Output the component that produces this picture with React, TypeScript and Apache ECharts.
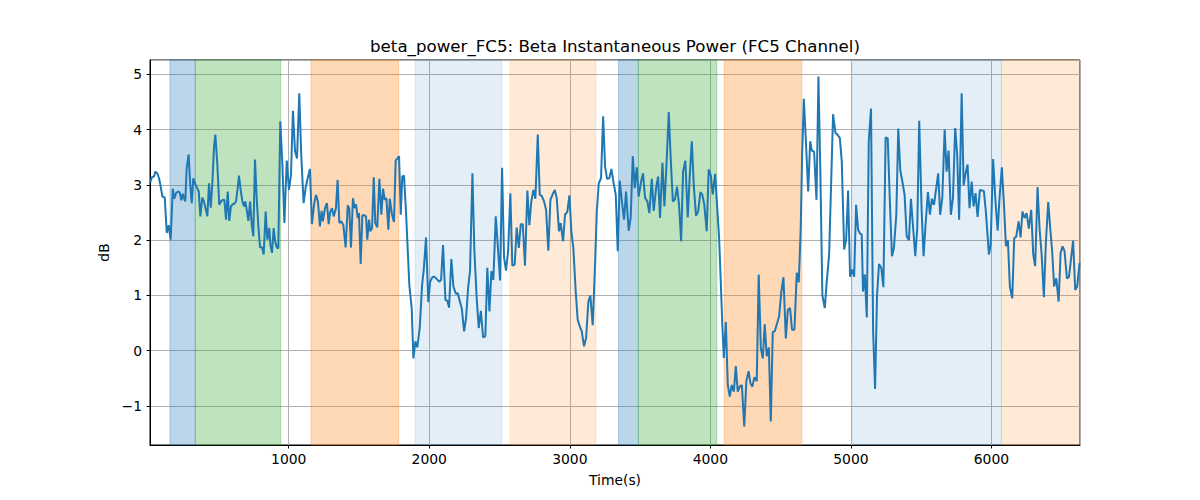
import React, { useEffect, useRef } from "react";
import * as echarts from "echarts";

// [time (s), dB]
const beta: [number, number][] = [
  [15,3.05],[27,3.14],[41,3.15],[51,3.24],[65,3.21],[77,3.12],[89,2.97],[101,2.79],[118,2.77],[132,2.13],
  [146,2.27],[160,2.01],[175,2.93],[186,2.75],[198,2.85],[212,2.88],[224,2.87],[236,2.72],[246,2.84],[255,2.76],
  [264,2.70],[274,3.31],[288,3.55],[298,3.06],[310,2.67],[321,3.12],[333,3.03],[345,2.96],[360,2.88],[371,2.43],
  [385,2.77],[397,2.70],[409,2.57],[421,2.43],[433,3.03],[445,2.59],[456,3.00],[468,3.67],[478,3.91],[492,3.37],
  [506,2.64],[518,2.70],[531,2.73],[542,2.73],[554,2.37],[566,2.88],[577,2.35],[589,2.61],[602,2.65],[613,2.66],
  [625,2.70],[637,2.94],[646,3.17],[658,2.91],[670,2.71],[682,2.61],[691,2.70],[703,2.52],[713,2.35],[725,2.70],
  [737,2.28],[748,2.07],[760,3.46],[772,2.76],[784,2.25],[796,1.87],[810,1.87],[822,1.74],[836,2.52],[848,2.01],
  [862,2.22],[869,1.92],[881,1.77],[893,2.22],[903,1.98],[915,1.87],[926,1.85],[940,4.15],[955,3.37],[969,2.31],
  [986,3.44],[1002,2.91],[1016,3.18],[1030,4.34],[1045,3.61],[1059,3.48],[1075,4.66],[1089,3.54],[1106,2.67],[1121,2.96],
  [1135,3.12],[1151,3.29],[1165,2.29],[1180,2.64],[1194,2.82],[1208,2.70],[1222,2.25],[1234,2.53],[1243,2.34],[1258,2.58],
  [1272,2.67],[1284,2.29],[1295,2.51],[1308,2.58],[1320,2.43],[1336,2.58],[1348,3.09],[1360,2.31],[1374,2.34],[1388,2.28],
  [1405,1.87],[1420,2.63],[1431,2.57],[1443,1.87],[1457,2.76],[1469,2.58],[1479,2.65],[1491,2.40],[1500,2.49],[1512,1.57],
  [1524,2.45],[1538,2.45],[1550,2.43],[1559,2.01],[1571,2.37],[1581,2.16],[1593,2.22],[1605,3.14],[1616,2.31],[1630,2.23],
  [1645,3.11],[1659,2.46],[1671,2.93],[1683,2.73],[1695,2.76],[1709,2.19],[1719,2.75],[1735,2.46],[1749,2.33],[1761,3.44],
  [1773,3.48],[1785,3.52],[1797,2.46],[1808,3.15],[1820,3.17],[1835,2.49],[1858,1.19],[1875,0.77],[1887,-0.14],[1901,0.17],
  [1915,0.06],[1932,0.41],[1949,1.19],[1961,1.47],[1977,2.05],[1993,0.88],[2006,1.25],[2022,1.33],[2036,1.34],[2053,1.30],
  [2070,1.25],[2084,1.28],[2098,1.91],[2115,0.92],[2129,0.90],[2141,0.78],[2157,1.66],[2172,1.16],[2189,1.03],[2203,1.04],
  [2217,0.90],[2231,0.77],[2248,0.35],[2262,0.59],[2276,1.13],[2290,1.44],[2307,3.21],[2321,1.80],[2338,0.92],[2352,0.41],
  [2367,0.72],[2383,0.24],[2399,0.26],[2413,1.50],[2428,0.71],[2442,1.44],[2456,1.28],[2473,2.43],[2487,1.92],[2504,1.27],
  [2518,3.31],[2532,1.69],[2546,1.45],[2561,1.80],[2577,2.85],[2591,1.54],[2608,1.56],[2622,2.23],[2637,1.86],[2651,2.29],
  [2665,2.29],[2681,1.54],[2698,2.90],[2712,2.27],[2726,2.70],[2741,2.91],[2755,2.75],[2772,3.91],[2786,2.82],[2800,2.80],
  [2817,2.70],[2831,2.55],[2847,1.81],[2862,2.73],[2878,2.83],[2893,2.91],[2907,2.76],[2923,2.16],[2935,2.31],[2952,1.98],
  [2966,2.46],[2982,2.51],[2997,2.81],[3011,2.16],[3025,1.86],[3042,1.07],[3056,0.56],[3071,0.44],[3085,0.35],[3101,0.08],
  [3116,0.23],[3132,0.89],[3146,1.00],[3163,0.46],[3178,1.44],[3192,2.52],[3206,3.03],[3222,3.12],[3237,4.24],[3251,3.33],
  [3265,3.11],[3281,3.12],[3296,3.29],[3310,3.06],[3327,2.82],[3341,1.80],[3355,3.08],[3372,2.67],[3386,2.37],[3400,2.88],
  [3419,2.17],[3433,2.40],[3448,3.52],[3462,2.94],[3476,3.32],[3490,2.79],[3507,3.06],[3521,3.21],[3535,2.77],[3552,2.70],
  [3566,2.49],[3583,3.11],[3597,2.53],[3614,2.94],[3628,3.15],[3642,2.40],[3659,3.40],[3673,2.61],[3690,3.48],[3704,4.32],
  [3718,3.47],[3733,2.70],[3747,2.73],[3763,2.97],[3777,2.64],[3792,1.98],[3806,3.24],[3822,3.44],[3839,2.41],[3854,3.20],
  [3868,3.79],[3882,2.99],[3898,2.44],[3913,2.52],[3929,2.87],[3943,2.82],[3957,2.64],[3974,2.16],[3988,3.28],[4003,3.17],
  [4017,2.83],[4034,3.20],[4046,2.70],[4062,2.05],[4074,1.25],[4086,0.41],[4096,-0.13],[4110,0.52],[4124,-0.62],[4138,-0.83],
  [4152,-0.62],[4167,-0.74],[4181,-0.28],[4195,-0.74],[4209,-0.65],[4224,-0.62],[4241,-1.37],[4256,-0.55],[4272,-0.37],[4285,-0.59],
  [4299,-0.65],[4313,-0.48],[4330,-0.55],[4344,1.38],[4359,0.05],[4373,-0.14],[4387,0.48],[4401,-0.10],[4416,0.06],[4430,-1.28],
  [4444,0.34],[4458,0.35],[4472,0.47],[4489,0.62],[4505,1.07],[4520,1.33],[4537,0.22],[4551,0.74],[4567,0.77],[4581,0.38],
  [4598,0.38],[4615,1.41],[4629,1.24],[4643,2.22],[4653,3.55],[4665,4.56],[4679,3.82],[4696,2.88],[4710,3.79],[4722,3.62],
  [4738,3.60],[4755,2.73],[4769,4.96],[4783,3.18],[4797,1.00],[4814,0.77],[4828,1.25],[4845,1.74],[4859,3.00],[4873,4.28],
  [4890,3.94],[4904,3.91],[4921,3.85],[4935,3.43],[4952,1.83],[4966,2.01],[4980,2.90],[4994,1.34],[5009,1.47],[5023,1.34],
  [5037,2.64],[5051,2.19],[5065,2.12],[5077,2.10],[5086,1.07],[5099,1.38],[5113,0.60],[5127,3.79],[5143,4.38],[5158,0.35],
  [5172,-0.69],[5186,1.01],[5200,1.57],[5216,1.50],[5231,1.15],[5247,3.86],[5262,3.84],[5278,2.65],[5292,1.71],[5306,1.86],
  [5323,2.46],[5337,4.02],[5351,3.27],[5368,3.03],[5382,2.82],[5397,2.07],[5413,2.00],[5427,2.75],[5442,2.25],[5458,1.71],
  [5472,2.22],[5486,4.16],[5503,2.55],[5517,1.71],[5531,2.28],[5548,2.87],[5562,2.46],[5576,2.75],[5591,2.64],[5607,2.94],
  [5621,3.21],[5635,2.46],[5650,2.76],[5667,4.00],[5681,3.24],[5695,3.62],[5711,2.46],[5726,2.76],[5742,4.03],[5756,3.55],
  [5770,2.37],[5788,4.66],[5802,2.99],[5816,3.21],[5830,3.37],[5844,2.58],[5859,3.06],[5873,2.61],[5887,2.85],[5901,2.42],
  [5918,2.91],[5946,2.89],[5960,2.52],[5982,1.74],[5994,1.92],[6012,3.47],[6027,2.76],[6044,2.17],[6058,2.79],[6074,3.32],
  [6089,2.64],[6103,1.89],[6117,2.00],[6131,1.16],[6148,0.95],[6162,2.04],[6176,2.06],[6193,2.34],[6207,2.05],[6221,2.52],
  [6236,2.40],[6250,2.49],[6266,2.21],[6283,2.55],[6297,1.75],[6311,1.53],[6328,2.96],[6342,2.22],[6357,1.74],[6373,0.97],
  [6387,1.95],[6404,2.69],[6418,2.22],[6432,1.80],[6446,1.16],[6461,1.31],[6478,0.89],[6492,1.77],[6506,1.89],[6520,1.80],
  [6537,1.31],[6551,1.33],[6567,1.68],[6581,1.99],[6596,1.10],[6610,1.16],[6627,1.59],
];

// shaded intervals (s)
const bandStart = [155, 335, 1159, 1899, 2575, 3346, 3488, 4098, 5011, 6071];
const bandEnd = [335, 943, 1783, 2516, 3185, 3488, 4046, 4651, 6071, 6630];
const bandKind = ["blue", "green", "orange", "lightblue", "lightorange", "blue", "green", "orange", "lightblue", "lightorange"];

const xMin = 13;
const xMax = 6630;
const yMin = -1.706;
const yMax = 5.26;

const bandColor: Record<string, string> = {
  blue: "rgba(31,119,180,0.3)",
  green: "rgba(44,160,44,0.3)",
  orange: "rgba(255,127,14,0.3)",
  lightblue: "rgba(31,119,180,0.12)",
  lightorange: "rgba(255,127,14,0.16)",
};

const FONT = "DejaVu Sans";

export default function App() {
  const ref = useRef<HTMLDivElement>(null);
  useEffect(() => {
    if (!ref.current) return;
    const chart = echarts.init(ref.current, undefined, { renderer: "svg" });
    const fmt = (v: number) => {
      if (Math.abs(v - Math.round(v)) > 1e-6) return "";
      return v < 0 ? "\u2212" + Math.abs(v) : String(v);
    };
    chart.setOption({
      animation: false,
      backgroundColor: "#ffffff",
      title: {
        text: "beta_power_FC5: Beta Instantaneous Power (FC5 Channel)",
        left: 615,
        top: 38,
        padding: 0,
        textAlign: "center",
        textStyle: { fontFamily: FONT, fontSize: 16.67, fontWeight: "normal", color: "#000" },
      },
      grid: {
        left: 150,
        right: 120,
        top: 60,
        bottom: 55,
        show: true,
        borderColor: "#000",
        borderWidth: 1,
        backgroundColor: "transparent",
      },
      xAxis: {
        type: "value",
        min: xMin,
        max: xMax,
        name: "Time(s)",
        nameLocation: "middle",
        nameGap: 28,
        nameTextStyle: { fontFamily: FONT, fontSize: 13.9, color: "#000" },
        axisLine: { show: true, onZero: false, lineStyle: { color: "#000", width: 1 } },
        axisTick: { show: true, length: 3.5, lineStyle: { color: "#000", width: 1 } },
        axisLabel: {
          fontFamily: FONT, fontSize: 13.9, color: "#000", margin: 7,
          showMinLabel: false, showMaxLabel: false, formatter: fmt,
        },
        splitLine: { show: true, lineStyle: { color: "#b0b0b0", width: 1 } },
      },
      yAxis: {
        type: "value",
        min: yMin,
        max: yMax,
        name: "dB",
        nameLocation: "middle",
        nameGap: 38,
        nameRotate: 90,
        nameTextStyle: { fontFamily: FONT, fontSize: 13.9, color: "#000" },
        axisLine: { show: true, lineStyle: { color: "#000", width: 1 } },
        axisTick: { show: true, length: 3.5, lineStyle: { color: "#000", width: 1 } },
        axisLabel: {
          fontFamily: FONT, fontSize: 13.9, color: "#000", margin: 8,
          showMinLabel: false, showMaxLabel: false, formatter: fmt,
        },
        splitLine: { show: true, lineStyle: { color: "#b0b0b0", width: 1 } },
      },
      series: [
        {
          type: "line",
          data: beta,
          showSymbol: false,
          lineStyle: { color: "#1f77b4", width: 2 },
          itemStyle: { color: "#1f77b4" },
          z: 3,
          markArea: {
            silent: true,
            data: bandStart.map((s, i) => [
              {
                xAxis: s,
                itemStyle: {
                  color: bandColor[bandKind[i]],
                  borderColor: bandColor[bandKind[i]],
                  borderWidth: 1,
                },
              },
              { xAxis: bandEnd[i] },
            ]),
          },
        },
      ],
    });
    return () => chart.dispose();
  }, []);
  return (
    <div
      ref={ref}
      style={{ position: "fixed", left: 0, top: 0, width: 1200, height: 500, background: "#fff" }}
    />
  );
}
